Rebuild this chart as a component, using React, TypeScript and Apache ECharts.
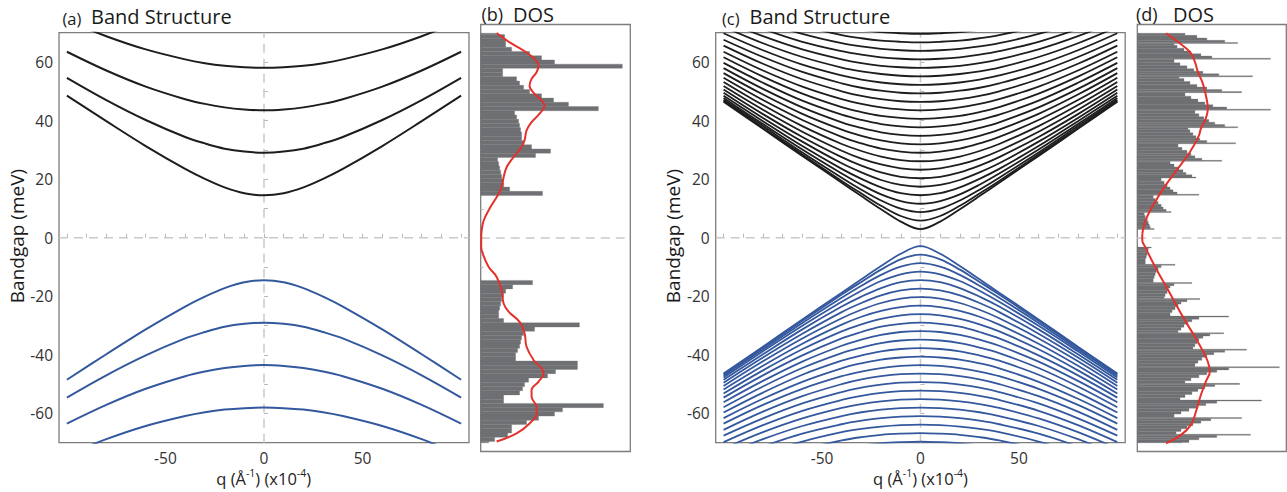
import React, { useEffect, useRef } from "react";
import * as echarts from "echarts";

const FONT = '"Open Sans", "Liberation Sans", sans-serif';
const BLACK = "#1d1d1d";
const BLUE = "#34589e";
const RED = "#e5312b";
const GRAY = "#6f7073";
const FRAME = "#7d7d7d";
const DASH = "#c9c9c9";

// momentum samples (q >= 0, bands are symmetric in q)
const qHalf = [0, 10, 20, 30, 40, 60, 80, 100];

// (a) band energies (meV) at qHalf
const condA = [
  [14.5, 15.2, 17.2, 20.1, 23.5, 31.3, 39.8, 48.5],
  [29.0, 29.4, 30.4, 32.2, 34.4, 40.2, 47.0, 54.6],
  [43.5, 43.8, 44.5, 45.7, 47.3, 51.6, 57.1, 63.5],
  [58.0, 58.2, 58.7, 59.6, 60.9, 64.3, 68.8, 74.2],
];
const valA = [
  [-14.5, -15.2, -17.2, -20.1, -23.5, -31.3, -39.8, -48.5],
  [-29.0, -29.4, -30.4, -32.2, -34.4, -40.2, -47.0, -54.6],
  [-43.5, -43.8, -44.5, -45.7, -47.3, -51.6, -57.1, -63.5],
  [-58.0, -58.2, -58.7, -59.6, -60.9, -64.3, -68.8, -74.2],
];

// (c) band energies (meV) at qHalf
const condC = [
  [2.9, 5.5, 9.7, 14.2, 18.8, 27.9, 37.2, 46.4],
  [5.8, 7.4, 10.9, 15.1, 19.4, 28.4, 37.5, 46.7],
  [8.7, 9.9, 12.7, 16.4, 20.5, 29.1, 38.1, 47.1],
  [11.6, 12.5, 14.8, 18.1, 21.9, 30.1, 38.8, 47.7],
  [14.5, 15.2, 17.2, 20.1, 23.5, 31.3, 39.8, 48.5],
  [17.4, 18.0, 19.7, 22.3, 25.4, 32.8, 40.9, 49.5],
  [20.3, 20.8, 22.3, 24.6, 27.5, 34.4, 42.2, 50.6],
  [23.2, 23.7, 25.0, 27.0, 29.7, 36.2, 43.7, 51.8],
  [26.1, 26.5, 27.7, 29.6, 32.0, 38.1, 45.3, 53.2],
  [29.0, 29.4, 30.4, 32.2, 34.4, 40.2, 47.0, 54.6],
  [31.9, 32.2, 33.2, 34.8, 36.9, 42.3, 48.9, 56.2],
  [34.8, 35.1, 36.0, 37.5, 39.4, 44.5, 50.8, 57.9],
  [37.7, 38.0, 38.8, 40.2, 42.0, 46.8, 52.9, 59.7],
  [40.6, 40.9, 41.6, 42.9, 44.6, 49.2, 55.0, 61.6],
  [43.5, 43.8, 44.5, 45.7, 47.3, 51.6, 57.1, 63.5],
  [46.4, 46.6, 47.3, 48.4, 50.0, 54.1, 59.4, 65.6],
  [49.3, 49.5, 50.2, 51.2, 52.7, 56.6, 61.7, 67.6],
  [52.2, 52.4, 53.0, 54.0, 55.4, 59.1, 64.0, 69.8],
  [55.1, 55.3, 55.9, 56.8, 58.1, 61.7, 66.4, 72.0],
  [58.0, 58.2, 58.7, 59.6, 60.9, 64.3, 68.8, 74.2],
  [60.9, 61.1, 61.6, 62.5, 63.7, 66.9, 71.3, 76.5],
  [63.8, 64.0, 64.5, 65.3, 66.4, 69.6, 73.8, 78.8],
  [66.7, 66.9, 67.3, 68.1, 69.2, 72.3, 76.3, 81.2],
  [69.6, 69.8, 70.2, 71.0, 72.0, 74.9, 78.8, 83.6],
];
const valC = [
  [-2.9, -5.5, -9.7, -14.2, -18.8, -27.9, -37.2, -46.4],
  [-5.8, -7.4, -10.9, -15.1, -19.4, -28.4, -37.5, -46.7],
  [-8.7, -9.9, -12.7, -16.4, -20.5, -29.1, -38.1, -47.1],
  [-11.6, -12.5, -14.8, -18.1, -21.9, -30.1, -38.8, -47.7],
  [-14.5, -15.2, -17.2, -20.1, -23.5, -31.3, -39.8, -48.5],
  [-17.4, -18.0, -19.7, -22.3, -25.4, -32.8, -40.9, -49.5],
  [-20.3, -20.8, -22.3, -24.6, -27.5, -34.4, -42.2, -50.6],
  [-23.2, -23.7, -25.0, -27.0, -29.7, -36.2, -43.7, -51.8],
  [-26.1, -26.5, -27.7, -29.6, -32.0, -38.1, -45.3, -53.2],
  [-29.0, -29.4, -30.4, -32.2, -34.4, -40.2, -47.0, -54.6],
  [-31.9, -32.2, -33.2, -34.8, -36.9, -42.3, -48.9, -56.2],
  [-34.8, -35.1, -36.0, -37.5, -39.4, -44.5, -50.8, -57.9],
  [-37.7, -38.0, -38.8, -40.2, -42.0, -46.8, -52.9, -59.7],
  [-40.6, -40.9, -41.6, -42.9, -44.6, -49.2, -55.0, -61.6],
  [-43.5, -43.8, -44.5, -45.7, -47.3, -51.6, -57.1, -63.5],
  [-46.4, -46.6, -47.3, -48.4, -50.0, -54.1, -59.4, -65.6],
  [-49.3, -49.5, -50.2, -51.2, -52.7, -56.6, -61.7, -67.6],
  [-52.2, -52.4, -53.0, -54.0, -55.4, -59.1, -64.0, -69.8],
  [-55.1, -55.3, -55.9, -56.8, -58.1, -61.7, -66.4, -72.0],
  [-58.0, -58.2, -58.7, -59.6, -60.9, -64.3, -68.8, -74.2],
  [-60.9, -61.1, -61.6, -62.5, -63.7, -66.9, -71.3, -76.5],
  [-63.8, -64.0, -64.5, -65.3, -66.4, -69.6, -73.8, -78.8],
  [-66.7, -66.9, -67.3, -68.1, -69.2, -72.3, -76.3, -81.2],
  [-69.6, -69.8, -70.2, -71.0, -72.0, -74.9, -78.8, -83.6],
];

// (b) DOS histogram: |E| bin edges (meV) and counts (a.u.)
const dosBEdges = [14.5, 15.95, 17.4, 18.85, 20.3, 21.75, 23.2, 24.65, 26.1, 27.55, 29, 30.45, 31.9, 33.35, 34.8, 36.25, 37.7, 39.15, 40.6, 42.05, 43.5, 44.95, 46.4, 47.85, 49.3, 50.75, 52.2, 53.65, 55.1, 56.55, 58, 59.45, 60.9, 62.35, 63.8, 65.25, 66.7, 68.15, 69.6, 70];
const dosBPos = [62, 29, 23, 22, 21, 20, 19, 18, 17, 55, 70, 51, 43, 41, 41, 40, 39, 38, 36, 34, 118, 88, 73, 61, 49, 43, 39, 36, 22, 22, 142, 74, 61, 49, 31, 25, 25, 24, 16];
const dosBNeg = [52, 32, 25, 23, 21, 20, 19, 18, 18, 23, 99, 54, 43, 41, 40, 39, 37, 35, 35, 97, 97, 75, 67, 48, 44, 42, 39, 23, 23, 123, 82, 74, 58, 46, 31, 31, 27, 14, 8];
// (b) broadened DOS curve
const dosBCurveE = [70.1, 66.9, 64.1, 61.2, 58.9, 56.7, 54.4, 52.1, 49.3, 47, 45.3, 42.5, 39.6, 36.8, 33.4, 31.1, 27.7, 24.2, 20.8, 17.4, 15.1, 12.9, 9.5, 6.0, 2.6, 0, -3, -5.3, -9.9, -13.3, -17.8, -22.4, -25.2, -28.7, -32.6, -37.2, -41.7, -44.6, -46.3, -49.1, -52, -54.3, -57.7, -60, -63.4, -66.8, -69.6];
const dosBCurveV = [16, 29, 43, 54, 58, 56, 51, 49, 54, 61, 64, 59, 51, 46, 44, 41, 33, 26, 23, 21, 18, 14, 8, 3, 1, 0.5, 0.5, 2, 8, 16, 21, 23, 28, 39, 44, 46, 53, 61, 63, 58, 51, 51, 56, 56, 49, 36, 16];

// (d) DOS histogram: sub-bin offsets inside each period (meV), period onsets and counts
const toothOffsets = [0, 0.35, 1.1, 1.9, 2.8, 3.8, 4.8];
const dosDPosOnsets = [2.9, 8.7, 14.6, 20.5, 26.2, 32.2, 37.7, 43.7, 49.7, 55.1, 61.1, 66.5];
const dosDPosTeeth = [
  [17, 13, 12, 11, 10, 8, 7],
  [34, 29, 26, 24, 21, 18, 16],
  [62, 40, 36, 33, 30, 27, 24],
  [59, 55, 49, 46, 42, 37, 33],
  [85, 65, 58, 54, 50, 45, 41],
  [99, 70, 63, 59, 56, 53, 51],
  [101, 88, 78, 72, 67, 62, 58],
  [134, 90, 76, 68, 61, 54, 48],
  [105, 85, 70, 60, 53, 47, 42],
  [116, 82, 66, 57, 50, 43, 37],
  [134, 75, 64, 54, 47, 40, 37],
  [101, 88, 70, 60, 48],
];
const dosDNegOnsets = [3.1, 9.0, 15.2, 20.7, 26.7, 32.4, 38.0, 44.0, 49.7, 55.4, 61.4, 67.1];
const dosDNegTeeth = [
  [14, 11, 10, 10, 9, 8, 8],
  [38, 24, 21, 19, 18, 17, 16],
  [55, 37, 33, 31, 30, 28, 27],
  [63, 50, 44, 41, 38, 35, 33],
  [92, 62, 55, 51, 47, 44, 41],
  [87, 73, 66, 62, 60, 58, 56],
  [110, 88, 77, 70, 65, 61, 58],
  [143, 92, 80, 70, 62, 54, 48],
  [103, 78, 68, 61, 55, 48, 43],
  [125, 80, 69, 60, 52, 44, 37],
  [105, 74, 64, 56, 50, 44, 39],
  [114, 80, 62, 52, 45],
];
const dosDCurveE = [70, 67, 63.6, 60.2, 56.8, 52.8, 48.8, 44.3, 40.9, 37.4, 35, 29.4, 22.5, 16.8, 11.2, 6.6, 3.2, 0.9, -0.8, -3.1, -9.9, -17.8, -27, -33.8, -38, -42.3, -45.7, -49.1, -53.7, -59.4, -63.9, -67.3, -70.2];
const dosDCurveV = [29, 41, 53, 58, 61, 66, 69, 71, 69, 64, 62, 53, 38, 26, 16, 9, 6, 5, 5, 8, 18, 31, 46, 58, 65, 71, 73, 69, 64, 59, 54, 44, 29];

// tick values
const xLabelVals = [-50, 0, 50];
const xTickVals = [-100, -90, -80, -70, -60, -50, -40, -30, -20, -10, 0, 10, 20, 30, 40, 50, 60, 70, 80, 90, 100];
const yLabelVals = [-60, -40, -20, 0, 20, 40, 60];
const yTickVals = [-60, -50, -40, -30, -20, -10, 0, 10, 20, 30, 40, 50, 60];
const dosTickVals = [-70, -65, -60, -55, -50, -45, -40, -35, -30, -25, -20, -15, -10, -5, 0, 5, 10, 15, 20, 25, 30, 35, 40, 45, 50, 55, 60, 65, 70];

function bandPoints(half: number[]) {
  const pts: number[][] = [];
  for (let i = qHalf.length - 1; i > 0; i--) pts.push([-qHalf[i], half[i]]);
  for (let i = 0; i < qHalf.length; i++) pts.push([qHalf[i], half[i]]);
  return pts;
}

function bandSeries(bands: number[][], color: string, gi: number, width: number) {
  return bands.map((b) => ({
    type: "line",
    xAxisIndex: gi,
    yAxisIndex: gi,
    data: bandPoints(b),
    smooth: 0.35,
    symbol: "none",
    silent: true,
    clip: true,
    z: 3,
    lineStyle: { color, width },
  }));
}

function histB() {
  const out: number[][] = [];
  for (let k = 0; k < dosBPos.length; k++) out.push([dosBEdges[k], dosBEdges[k + 1], dosBPos[k]]);
  for (let k = 0; k < dosBNeg.length; k++) out.push([-dosBEdges[k + 1], -dosBEdges[k], dosBNeg[k]]);
  return out;
}

function teethRects(onsets: number[], teeth: number[][], sign: number) {
  const out: number[][] = [];
  for (let i = 0; i < onsets.length; i++) {
    const start = onsets[i];
    const next = i + 1 < onsets.length ? onsets[i + 1] : 70;
    const vals = teeth[i];
    for (let j = 0; j < vals.length; j++) {
      const lo = start + toothOffsets[j];
      let hi = j + 1 < toothOffsets.length ? start + toothOffsets[j + 1] : next;
      if (j === vals.length - 1) hi = next;
      hi = Math.min(hi, next, 70);
      if (lo >= hi) continue;
      if (sign > 0) out.push([lo, hi, vals[j]]);
      else out.push([-hi, -lo, vals[j]]);
    }
  }
  return out;
}

function histSeries(data: number[][], gi: number) {
  return {
    type: "custom",
    xAxisIndex: gi,
    yAxisIndex: gi,
    data,
    clip: true,
    silent: true,
    z: 2,
    encode: { x: 2, y: [0, 1] },
    renderItem: (_p: any, api: any) => {
      const lo = api.value(0);
      const hi = api.value(1);
      const v = api.value(2);
      const a = api.coord([0, hi]);
      const b = api.coord([v, lo]);
      return {
        type: "rect",
        shape: { x: a[0], y: a[1], width: b[0] - a[0], height: b[1] - a[1] },
        style: { fill: GRAY, stroke: GRAY, lineWidth: 0.3 },
      };
    },
  };
}

function curveSeries(E: number[], V: number[], gi: number) {
  return {
    type: "line",
    xAxisIndex: gi,
    yAxisIndex: gi,
    data: E.map((e, i) => [V[i], e]),
    smooth: 0.4,
    symbol: "none",
    silent: true,
    z: 5,
    lineStyle: { color: RED, width: 2 },
  };
}

function dashSeries(gi: number, pts: number[][]) {
  return {
    type: "line",
    xAxisIndex: gi,
    yAxisIndex: gi,
    data: pts,
    symbol: "none",
    silent: true,
    z: 1,
    lineStyle: { color: DASH, width: 1.5, type: [9, 6] },
  };
}

function bandX(gi: number) {
  return {
    gridIndex: gi,
    type: "value",
    min: -104,
    max: 104,
    axisLine: { show: false },
    splitLine: { show: false },
    axisTick: { show: true, inside: true, length: 4, customValues: xTickVals, lineStyle: { color: "#b8b8b8", width: 1 } },
    axisLabel: { customValues: xLabelVals, fontFamily: FONT, fontSize: 15.5, color: "#333", margin: 7 },
  };
}
function bandY(gi: number) {
  return {
    gridIndex: gi,
    type: "value",
    min: -70,
    max: 70,
    axisLine: { show: false },
    splitLine: { show: false },
    axisTick: { show: true, inside: true, length: 4, customValues: yTickVals, lineStyle: { color: "#b8b8b8", width: 1 } },
    axisLabel: { customValues: yLabelVals, fontFamily: FONT, fontSize: 15.5, color: "#333", margin: 6 },
  };
}
function dosX(gi: number) {
  return {
    gridIndex: gi,
    type: "value",
    min: 0,
    max: 150,
    axisLine: { show: false },
    splitLine: { show: false },
    axisTick: { show: false },
    axisLabel: { show: false },
  };
}
function dosY(gi: number) {
  return {
    gridIndex: gi,
    type: "value",
    min: -73,
    max: 73,
    axisLine: { show: false },
    splitLine: { show: false },
    axisTick: { show: true, inside: true, length: 3, customValues: dosTickVals, lineStyle: { color: "#bdbdbd", width: 1 } },
    axisLabel: { show: false },
  };
}

function txt(x: number, y: number, text: string, size: number, extra: any = {}) {
  return {
    type: "text",
    x,
    y,
    silent: true,
    ...extra,
    style: { text, fontFamily: FONT, fontSize: size, fill: "#1a1a1a", align: "left", verticalAlign: "middle", ...(extra.style || {}) },
  };
}

function qLabel(cx: number) {
  return {
    type: "text",
    x: cx,
    y: 477,
    silent: true,
    style: {
      text: "{n|q (Å}{s|-1}{n|) (x10}{s|-4}{n|)}",
      align: "center",
      verticalAlign: "middle",
      rich: {
        n: { fontFamily: FONT, fontSize: 16.5, fill: "#222", lineHeight: 19, verticalAlign: "bottom" },
        s: { fontFamily: FONT, fontSize: 10.5, fill: "#222", lineHeight: 19, verticalAlign: "top" },
      },
    },
  };
}

function buildOption() {
  const gridBase = { show: true, borderColor: FRAME, borderWidth: 1.3, backgroundColor: "transparent", containLabel: false };
  return {
    animation: false,
    backgroundColor: "#ffffff",
    grid: [
      { ...gridBase, left: 59, top: 32.7, width: 410, height: 410 },
      { ...gridBase, left: 480.7, top: 24.5, width: 149.6, height: 427 },
      { ...gridBase, left: 715.7, top: 32.7, width: 409.5, height: 410 },
      { ...gridBase, left: 1137.3, top: 24.5, width: 149, height: 427 },
    ],
    xAxis: [bandX(0), dosX(1), bandX(2), dosX(3)],
    yAxis: [bandY(0), dosY(1), bandY(2), dosY(3)],
    series: [
      dashSeries(0, [[-104, 0], [104, 0]]),
      dashSeries(0, [[0, -70], [0, 70]]),
      ...bandSeries(condA, BLACK, 0, 2),
      ...bandSeries(valA, BLUE, 0, 2),
      dashSeries(1, [[0, 0], [150, 0]]),
      histSeries(histB(), 1),
      curveSeries(dosBCurveE, dosBCurveV, 1),
      dashSeries(2, [[-104, 0], [104, 0]]),
      dashSeries(2, [[0, -70], [0, 70]]),
      ...bandSeries(condC, BLACK, 2, 1.8),
      ...bandSeries(valC, BLUE, 2, 1.8),
      dashSeries(3, [[0, 0], [150, 0]]),
      histSeries([...teethRects(dosDPosOnsets, dosDPosTeeth, 1), ...teethRects(dosDNegOnsets, dosDNegTeeth, -1)], 3),
      curveSeries(dosDCurveE, dosDCurveV, 3),
    ],
    graphic: [
      txt(62.5, 18.3, "(a)", 16.5),
      txt(91, 16.7, "Band Structure", 20),
      txt(481.5, 13.8, "(b)", 18),
      txt(513, 14, "DOS", 20),
      txt(722, 18.3, "(c)", 16.5),
      txt(749.5, 16.7, "Band Structure", 20),
      txt(1136, 13.8, "(d)", 18),
      txt(1173, 14, "DOS", 20),
      txt(17, 236, "Bandgap (meV)", 19, { rotation: Math.PI / 2, style: { align: "center" } }),
      txt(673, 236, "Bandgap (meV)", 19, { rotation: Math.PI / 2, style: { align: "center" } }),
      qLabel(263.7),
      qLabel(920.5),
    ],
  };
}

export default function App() {
  const ref = useRef<HTMLDivElement>(null);
  useEffect(() => {
    const chart = echarts.init(ref.current!, null, { renderer: "svg" });
    chart.setOption(buildOption() as any);
    return () => chart.dispose();
  }, []);
  return (
    <div
      ref={ref}
      style={{ position: "fixed", left: 0, top: 0, width: 1287, height: 492, background: "#fff" }}
    />
  );
}
